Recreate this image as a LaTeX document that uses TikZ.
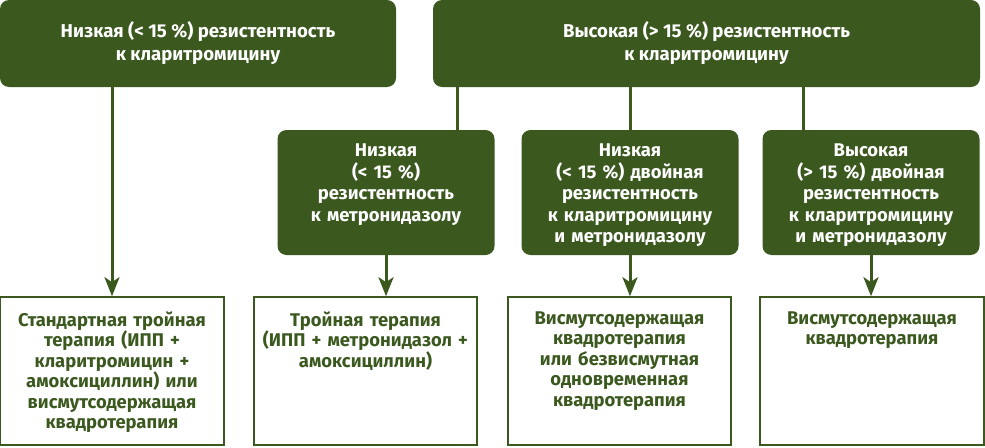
\documentclass[tikz,border=0pt]{standalone}
\usepackage{fontspec}
\setmainfont{Fira Sans}
\usetikzlibrary{positioning,arrows.meta}
\definecolor{leaf}{RGB}{59,88,31}

\begin{document}
\begin{tikzpicture}[x=1pt,y=-1pt,
    head/.style={fill=leaf, rounded corners=9pt, inner sep=0pt, text=white, align=center,
        font=\bfseries\fontsize{18.6}{23}\selectfont},
    sub/.style={fill=leaf, rounded corners=9pt, minimum width=217, minimum height=125},
    subtext/.style={text=white, align=center, inner sep=0pt, text width=214,
        font=\bfseries\fontsize{18.4}{21.5}\selectfont},
    cure/.style={draw=leaf, line width=1.6pt, minimum width=223, minimum height=148},
    curetext/.style={text=leaf, align=center, inner sep=0pt, text width=220,
        font=\bfseries\fontsize{18.4}{20.5}\selectfont},
    link/.style={draw=leaf, line width=3pt},
    arr/.style={link, -{Stealth[length=19pt,width=15pt,inset=5pt]}}]
        \useasboundingbox (0,0) rectangle (985,447);

        % clarithromycin
        \node[head, minimum width=396, minimum height=87] (low) at (198,43.5)
            {Низкая (< 15 \%) резистентность\\к кларитромицину};
        \node[head, minimum width=547, minimum height=87] (high) at (706.5,43.5)
            {Высокая (> 15 \%) резистентность\\к кларитромицину};

        % metronidazole
        \node[sub] (metro) at (386,192.5) {};
        \node[sub] (dual) at (630,192.5) {};
        \node[sub] (both) at (871,192.5) {};
        \node[subtext, below=14pt of metro.north] {Низкая\\(< 15 \%)\\резистентность\\к метронидазолу};
        \node[subtext, below=14pt of dual.north] {Низкая\\(< 15 \%) двойная\\резистентность\\к кларитромицину\\и метронидазолу};
        \node[subtext, below=14pt of both.north] {Высокая\\(> 15 \%) двойная\\резистентность\\к кларитромицину\\и метронидазолу};

        % therapy
        \node[cure, minimum width=224] (std) at (112,371) {};
        \node[cure] (triple) at (365.5,371) {};
        \node[cure] (quad) at (619.5,371) {};
        \node[cure, minimum width=224] (bism) at (872,371) {};
        \node[curetext, below=15pt of std.north] {Стандартная тройная\\терапия (ИПП +\\кларитромицин +\\амоксициллин) или\\висмутсодержащая\\квадротерапия};
        \node[curetext, below=15pt of triple.north] {Тройная терапия\\(ИПП + метронидазол +\\амоксициллин)};
        \node[curetext, below=15pt of quad.north] {Висмутсодержащая\\квадротерапия\\или безвисмутная\\одновременная\\квадротерапия};
        \node[curetext, below=15pt of bism.north] {Висмутсодержащая\\квадротерапия};

        \coordinate (m1) at (457,130);
        \coordinate (m3) at (803,130);
        \draw[link] (m1 |- high.south) -- (m1);
        \draw[link] (dual.north |- high.south) -- (dual.north);
        \draw[link] (m3 |- high.south) -- (m3);

        \draw[arr] (low.south -| std.north) -- (std.north);
        \draw[arr] (metro.south) -- (metro.south |- triple.north);
        \draw[arr] (dual.south) -- (dual.south |- quad.north);
        \draw[arr] (both.south) -- (both.south |- bism.north);
    \end{tikzpicture}
\end{document}
